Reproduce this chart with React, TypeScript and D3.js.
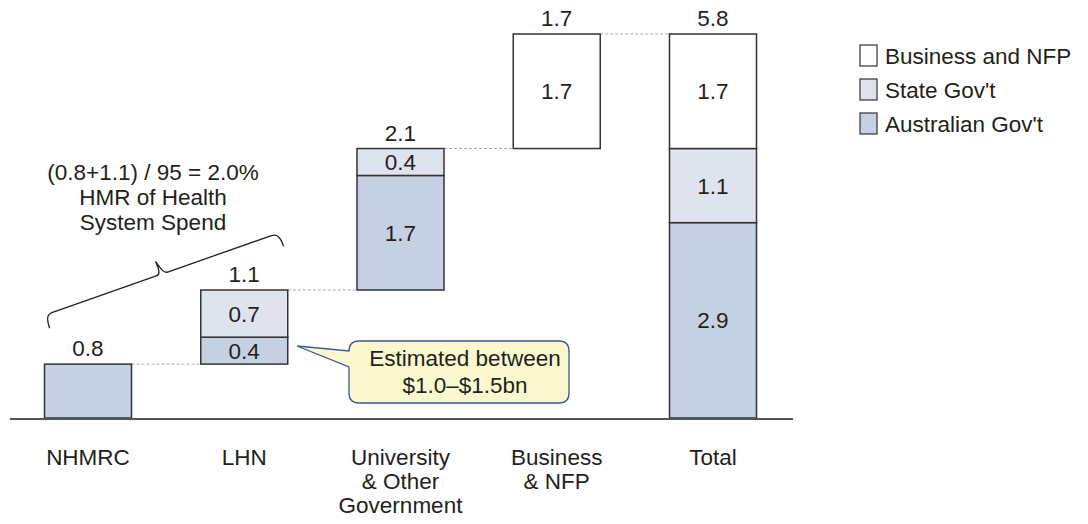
import React from 'react';
import * as d3 from 'd3';

const categories = ["NHMRC", "LHN", "University", "Business", "Total"];
const categoryLines = [["NHMRC"], ["LHN"], ["University", "& Other", "Government"], ["Business", "& NFP"], ["Total"]];
const australianGov = [0.8, 0.4, 1.7, 0, 2.9];
const stateGov = [0, 0.7, 0.4, 0, 1.1];
const businessNfp = [0, 0, 0, 1.7, 1.7];
const topLabels = ["0.8", "1.1", "2.1", "1.7", "5.8"];
const isTotal = [false, false, false, false, true];
const showInside = [false, true, true, true, true];

const seriesNames = ["Business and NFP", "State Gov't", "Australian Gov't"];
const seriesColors: Record<string, string> = {
	"Australian Gov't": "#c5d0e2",
	"State Gov't": "#dfe3ee",
	"Business and NFP": "#ffffff",
};

const font = "'Liberation Sans', Arial, sans-serif";
const textColor = "#231f20";
const fs = 22.5;

export default function App() {
	const width = 1088;
	const height = 524;
	const barWidth = 87;

	const x = d3.scalePoint<string>().domain(categories).range([88, 713]);
	const y = d3.scaleLinear().domain([0, 5.7]).range([418, 34]);

	// waterfall offsets: each step starts where the previous one ended
	let running = 0;
	const bars = categories.map((c, i) => {
		const vals = [
			{ key: "Australian Gov't", v: australianGov[i] },
			{ key: "State Gov't", v: stateGov[i] },
			{ key: "Business and NFP", v: businessNfp[i] },
		];
		const sum = d3.sum(vals, d => d.v);
		const base = isTotal[i] ? 0 : running;
		if (!isTotal[i]) running += sum;
		let acc = base;
		const segs = vals.filter(d => d.v > 0).map(d => {
			const s = { key: d.key, v: d.v, y0: acc, y1: acc + d.v };
			acc += d.v;
			return s;
		});
		return { c, i, base, top: base + sum, segs };
	});

	const bodyPath = (() => {
		// callout box with a pointer tail to the LHN bar
		const x0 = 349, x1 = 569, y0 = 341, y1 = 403, r = 10;
		const p = d3.path();
		p.moveTo(x0 + r, y0);
		p.lineTo(x1 - r, y0);
		p.quadraticCurveTo(x1, y0, x1, y0 + r);
		p.lineTo(x1, y1 - r);
		p.quadraticCurveTo(x1, y1, x1 - r, y1);
		p.lineTo(x0 + r, y1);
		p.quadraticCurveTo(x0, y1, x0, y1 - r);
		p.lineTo(x0, 367);
		p.lineTo(297, 346);
		p.lineTo(x0, 351);
		p.lineTo(x0, y0 + r);
		p.quadraticCurveTo(x0, y0, x0 + r, y0);
		p.closePath();
		return p.toString();
	})();

	// rotated curly brace spanning NHMRC + LHN
	const bx0 = 45, by0 = 315, bx1 = 279, by1 = 233;
	const blen = Math.hypot(bx1 - bx0, by1 - by0);
	const bang = Math.atan2(by1 - by0, bx1 - bx0) * 180 / Math.PI;
	const h = blen / 2;
	const brace = `M${-h},14 C${-h},4 ${-h + 2},0 ${-h + 8},0 L-6,0 C-2,0 -1,-4 -2,-14 C1,-4 2,0 6,0 L${h - 8},0 C${h - 2},0 ${h},4 ${h},14`;

	return (
		<svg width={width} height={height} style={{ position: 'absolute', left: 0, top: 0, fontFamily: font }}>
			<rect width={width} height={height} fill="#fff" />

			{/* connectors */}
			{bars.slice(0, -1).map((b, i) => (
				<line key={`c${i}`} x1={x(b.c)! + barWidth / 2} x2={x(categories[i + 1])! - barWidth / 2}
					y1={y(b.top)} y2={y(b.top)} stroke="#aaa" strokeWidth={1} strokeDasharray="3,2" />
			))}

			{bars.map(b => (
				<g key={b.c}>
					{b.segs.map(s => (
						<g key={s.key}>
							<rect x={x(b.c)! - barWidth / 2} y={y(s.y1)} width={barWidth} height={y(s.y0) - y(s.y1)}
								fill={seriesColors[s.key]} stroke="#333" strokeWidth={1.5} />
							{showInside[b.i] && (
								<text x={x(b.c)} y={(y(s.y0) + y(s.y1)) / 2} dy="0.36em" textAnchor="middle"
									fontSize={fs} fill={textColor}>{d3.format(".1f")(s.v)}</text>
							)}
						</g>
					))}
					<text x={x(b.c)} y={y(b.top) - 8} textAnchor="middle" fontSize={fs} fill={textColor}>{topLabels[b.i]}</text>
					{categoryLines[b.i].map((l, k) => (
						<text key={k} x={x(b.c)} y={465 + k * 24} textAnchor="middle" fontSize={fs} fill={textColor}>{l}</text>
					))}
				</g>
			))}

			{/* axis */}
			<line x1={10} x2={793} y1={y(0) + 1} y2={y(0) + 1} stroke="#555" strokeWidth={2} />

			{/* brace annotation */}
			<path d={brace} transform={`translate(${(bx0 + bx1) / 2},${(by0 + by1) / 2}) rotate(${bang})`}
				fill="none" stroke="#222" strokeWidth={1.3} />
			{["(0.8+1.1) / 95 = 2.0%", "HMR of Health", "System Spend"].map((l, k) => (
				<text key={k} x={153} y={180 + k * 25} textAnchor="middle" fontSize={fs} fill={textColor}>{l}</text>
			))}

			{/* callout */}
			<path d={bodyPath} fill="#fbf8cf" stroke="#3b5998" strokeWidth={1.3} />
			<text x={465} y={366} textAnchor="middle" fontSize={fs} fill={textColor}>Estimated between</text>
			<text x={465} y={393} textAnchor="middle" fontSize={fs} fill={textColor}>$1.0–$1.5bn</text>

			{/* legend */}
			{seriesNames.map((n, k) => (
				<g key={n} transform={`translate(860,${45 + k * 34})`}>
					<rect x={0} y={0} width={17} height={21} fill={seriesColors[n]} stroke="#333" strokeWidth={1.2} />
					<text x={25} y={10.5} dy="0.36em" fontSize={fs} fill={textColor}>{n}</text>
				</g>
			))}
		</svg>
	);
}
